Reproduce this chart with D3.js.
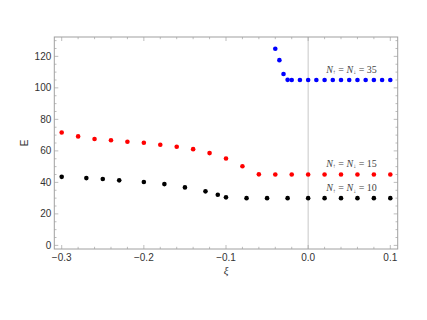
<!DOCTYPE html>
<html><head><meta charset="utf-8">
<script src="https://cdn.jsdelivr.net/npm/d3@7"></script>
<style>body{margin:0;background:#fff}</style>
</head><body>
<script>
const xi10 = [-0.3,-0.27,-0.25,-0.23,-0.2,-0.175,-0.15,-0.125,-0.11,-0.1,-0.075,-0.05,-0.025,0,0.02,0.04,0.06,0.08,0.1];
const e10  = [43.5,42.7,42.1,41.3,40.2,38.9,36.8,34.3,32.1,30.5,30,30,30,30,30,30,30,30,30];
const xi15 = [-0.3,-0.28,-0.26,-0.24,-0.22,-0.2,-0.18,-0.16,-0.14,-0.12,-0.1,-0.08,-0.06,-0.04,-0.02,0,0.02,0.04,0.06,0.08,0.1];
const e15  = [71.7,69.2,67.5,66.7,65.8,65.2,63.9,62.6,61.1,58.6,55.2,50.2,45.1,45,45,45,45,45,45,45,45];
const xi35 = [-0.04,-0.035,-0.03,-0.025,-0.02,-0.01,0,0.01,0.02,0.03,0.04,0.05,0.06,0.07,0.08,0.09,0.1];
const e35  = [124.8,117.6,108.8,105.1,105,105,105,105,105,105,105,105,105,105,105,105,105];
const labels = ["10","15","35"];
const colors = ["#000000","#ff0000","#0000ff"];
const xTicks = [-0.3,-0.2,-0.1,0.0,0.1];
const yTicks = [0,20,40,60,80,100,120];

const W=427,H=320;
const L=54.3,R=397.7,T=37,B=249;
const svg=d3.select("body").append("svg").attr("width",W).attr("height",H);
const x=d3.scaleLinear().domain([-0.309,0.109]).range([L,R]);
const y=d3.scaleLinear().domain([-2.3,132.3]).range([B,T]);

svg.append("line").attr("x1",x(0)).attr("x2",x(0)).attr("y1",T).attr("y2",B).attr("stroke","#c8c8c8").attr("stroke-width",1);

const fc="#a0a0a0";
const xMinor=d3.range(-0.30,0.1001,0.02).map(v=>+v.toFixed(3));
const yMinor=d3.range(0,130.1,5);
const g=svg.append("g");
function tick(x1,y1,x2,y2){g.append("line").attr("x1",x1).attr("y1",y1).attr("x2",x2).attr("y2",y2).attr("stroke",fc).attr("stroke-width",0.7);}
xMinor.forEach(v=>{const maj=xTicks.some(t=>Math.abs(t-v)<1e-6);const len=maj?4:2.2;tick(x(v),B,x(v),B-len);tick(x(v),T,x(v),T+len);});
yMinor.forEach(v=>{const maj=v%20===0;const len=maj?4:2.2;tick(L,y(v),L+len,y(v));tick(R,y(v),R-len,y(v));});
svg.append("rect").attr("x",L).attr("y",T).attr("width",R-L).attr("height",B-T).attr("fill","none").attr("stroke",fc).attr("stroke-width",1);

const tf="'Liberation Sans',Arial,sans-serif";
svg.selectAll(".xt").data(xTicks).enter().append("text").attr("x",d=>x(d)).attr("y",B+12).attr("text-anchor","middle")
 .attr("font-family",tf).attr("font-size",10).attr("fill","#333").text(d=>d===0?"0.0":(d<0?"\u2212":"")+Math.abs(d).toFixed(1));
svg.selectAll(".yt").data(yTicks).enter().append("text").attr("x",L-3).attr("y",d=>y(d)+3.5).attr("text-anchor","end")
 .attr("font-family",tf).attr("font-size",10).attr("fill","#333").text(d=>d);

svg.append("text").attr("x",226).attr("y",274).attr("text-anchor","middle").attr("font-family","'Liberation Serif',serif").attr("font-style","italic").attr("font-size",11).attr("fill","#333").text("ξ");
svg.append("text").attr("transform","translate(28,143) rotate(-90)").attr("text-anchor","middle").attr("font-family",tf).attr("font-size",10).attr("fill","#333").text("E");

const series=[[xi10,e10],[xi15,e15],[xi35,e35]];
series.forEach((s,i)=>{
  svg.append("g").selectAll("circle").data(s[0].map((v,j)=>[v,s[1][j]])).enter().append("circle")
   .attr("cx",d=>x(d[0])).attr("cy",d=>y(d[1])).attr("r",2.3).attr("fill",colors[i]);
});

const labY=[191,166.5,72.5];
labels.forEach((l,i)=>{
  const t=svg.append("text").attr("x",351.5).attr("y",labY[i]).attr("text-anchor","middle")
   .attr("font-family","'Liberation Serif',serif").attr("font-size",10).attr("fill","#444");
  t.append("tspan").attr("font-style","italic").text("N");
  t.append("tspan").attr("font-size",6).attr("dy",1.5).text("\u2191");
  t.append("tspan").attr("dy",-1.5).text(" = ");
  t.append("tspan").attr("font-style","italic").text("N");
  t.append("tspan").attr("font-size",6).attr("dy",1.5).text("\u2193");
  t.append("tspan").attr("dy",-1.5).text(" = "+l);
});
</script>
</body></html>
